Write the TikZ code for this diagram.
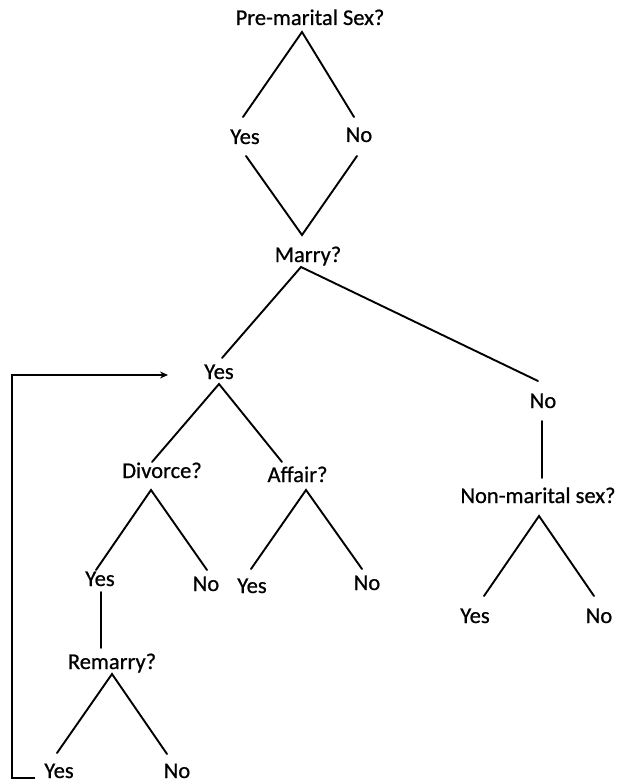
\documentclass[tikz,border=0pt]{standalone}
\usepackage{fontspec}
\newfontfamily\lblfont{Carlito}[FakeBold=0.7]
\usetikzlibrary{arrows.meta}
\begin{document}
\begin{tikzpicture}[x=1pt,y=-1pt,
  lbl/.style={anchor=base,inner sep=0pt,font=\lblfont\fontsize{22.5}{26}\selectfont},
  edge/.style={line width=1.9pt,line cap=round,line join=miter}]
\useasboundingbox (0,0) rectangle (618,783);
% labels
\node[lbl] (pms) at (310,25) {Pre-marital Sex?};
\node[lbl] (y1) at (245,144) {Yes};
\node[lbl] (n1) at (359,142) {No};
\node[lbl] (marry) at (308,262) {Marry?};
\node[lbl] (y2) at (219,379) {Yes};
\node[lbl] (n2) at (543,408) {No};
\node[lbl] (div) at (162,478) {Divorce?};
\node[lbl] (aff) at (297.5,482) {Affair?};
\node[lbl] (nms) at (538,503) {Non-marital sex?};
\node[lbl] (y3) at (100,586) {Yes};
\node[lbl] (n3) at (206,591) {No};
\node[lbl] (y4) at (252,593) {Yes};
\node[lbl] (n4) at (367,590) {No};
\node[lbl] (rem) at (112,669) {Remarry?};
\node[lbl] (y5) at (475,623) {Yes};
\node[lbl] (n5) at (599,623) {No};
\node[lbl] (y6) at (59,778) {Yes};
\node[lbl] (n6) at (177,778) {No};
% junction coordinates
\coordinate (pmsA) at (302,32);
\coordinate (y1T) at (243,117);
\coordinate (n1T) at (354,117);
\coordinate (y1B) at (246,156);
\coordinate (n1B) at (357,156);
\coordinate (marryV) at (302,235);
\coordinate (marryA) at (301,267);
\coordinate (y2T) at (222,358);
\coordinate (n2T) at (538,381);
\coordinate (y2A) at (219,384);
\coordinate (divT) at (152,462);
\coordinate (affT) at (282,462);
\coordinate (divA) at (151,490);
\coordinate (y3T) at (96,570);
\coordinate (n3T) at (207,570);
\coordinate (affA) at (306,490);
\coordinate (y4T) at (251,569);
\coordinate (n4T) at (362,569);
\coordinate (y3B) at (101,592);
\coordinate (remT) at (101,648);
\coordinate (remA) at (112,674);
\coordinate (y6T) at (57,753);
\coordinate (n6T) at (167,754);
\coordinate (n2B) at (542,421);
\coordinate (nmsT) at (542,478);
\coordinate (nmsA) at (539,516);
\coordinate (y5T) at (484,596);
\coordinate (n5T) at (594,596);
\coordinate (loopS) at (35,778);
\coordinate (loopC1) at (12,778);
\coordinate (loopC2) at (12,375);
\coordinate (loopE) at (168,375);
% connectors
\draw[edge] (y1T) -- (pmsA) -- (n1T);
\draw[edge] (y1B) -- (marryV) -- (n1B);
\draw[edge] (y2T) -- (marryA) -- (n2T);
\draw[edge] (divT) -- (y2A) -- (affT);
\draw[edge] (y3T) -- (divA) -- (n3T);
\draw[edge] (y4T) -- (affA) -- (n4T);
\draw[edge] (y3B) -- (remT);
\draw[edge] (y6T) -- (remA) -- (n6T);
\draw[edge] (n2B) -- (nmsT);
\draw[edge] (y5T) -- (nmsA) -- (n5T);
\draw[edge,line cap=butt,-{Stealth[length=8pt,width=7pt]}] (loopS) -- (loopC1) -- (loopC2) -- (loopE);
\end{tikzpicture}
\end{document}
